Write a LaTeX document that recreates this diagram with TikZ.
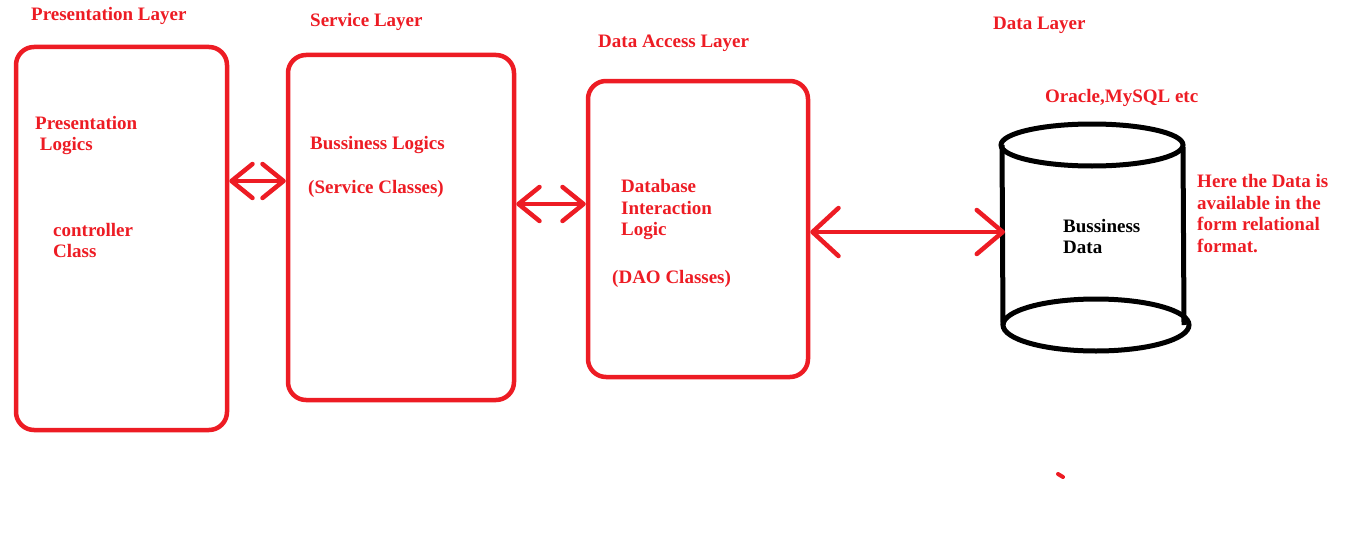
\documentclass[tikz,border=0pt]{standalone}
\usepackage{fontspec}
\setmainfont{Liberation Serif}
\usepackage{tikz}
\usetikzlibrary{arrows.meta}
\definecolor{paintred}{RGB}{237,28,36}

\begin{document}
\begin{tikzpicture}[x=1pt,y=-1pt,
  layerbox/.style={draw=paintred,line width=4.5pt,rounded corners=18pt,inner sep=0pt},
  redtext/.style={text=paintred,font=\bfseries\fontsize{19}{21.5}\selectfont,anchor=west,align=left,inner sep=0pt},
  blacktext/.style={redtext,text=black},
  biarrow/.style={draw=paintred,line width=4.5pt,line cap=round,
    {Straight Barb[length=21pt,width=34pt,round]}-{Straight Barb[length=21pt,width=34pt,round]}},
  bigarrow/.style={biarrow,
    {Straight Barb[length=26pt,width=48pt,round]}-{Straight Barb[length=26pt,width=44pt,round]}}]
\useasboundingbox (0,0) rectangle (1359,551);
% layers
\node[layerbox,minimum width=211pt,minimum height=383pt] (pres) at (121.5,238.5) {};
\node[layerbox,minimum width=226pt,minimum height=345pt] (svc) at (401,227.5) {};
\node[layerbox,minimum width=220pt,minimum height=296pt] (dao) at (698,229) {};
% database
\draw[line width=5pt] (1092,145) ellipse [x radius=91, y radius=21];
\draw[line width=5pt] (1096,325) ellipse [x radius=93, y radius=26];
\draw[line width=5pt] (1002,145) -- (1003,325);
\draw[line width=5pt] (1183,147) -- (1184,325);
\coordinate (db) at (1005,232);
% connectors
\draw[biarrow] ([yshift=57.5pt]pres.east) -- ([yshift=46.5pt]svc.west);
\draw[biarrow] ([yshift=23.5pt]svc.east) -- ([yshift=25pt]dao.west);
\draw[bigarrow] ([yshift=-3pt]dao.east) -- (db);
\draw[paintred,line width=4pt,line cap=round] (1058,474) -- (1063,477);
% titles
\node[redtext] (t1) at (31,16) {Presentation Layer};
\node[redtext] (t2) at (310,22) {Service Layer};
\node[redtext] (t3) at (598,43) {Data Access Layer};
\node[redtext] (t4) at (993,25) {Data Layer};
\node[redtext] (t5) at (1045,98) {Oracle,MySQL etc};
% box texts
\node[redtext] (p1) at (35,135.5) {Presentation\\\ Logics};
\node[redtext] (p2) at (53,240.5) {controller\\Class};
\node[redtext] (s1) at (310,145) {Bussiness Logics};
\node[redtext] (s2) at (308,189) {(Service Classes)};
\node[redtext] (d1) at (621,210) {Database\\Interaction\\Logic};
\node[redtext] (d2) at (612,279) {(DAO Classes)};
\node[blacktext] (b1) at (1063,236.5) {Bussiness\\Data};
\node[redtext] (n1) at (1197,213.5) {Here the Data is\\available in the\\form relational\\format.};
\end{tikzpicture}
\end{document}
